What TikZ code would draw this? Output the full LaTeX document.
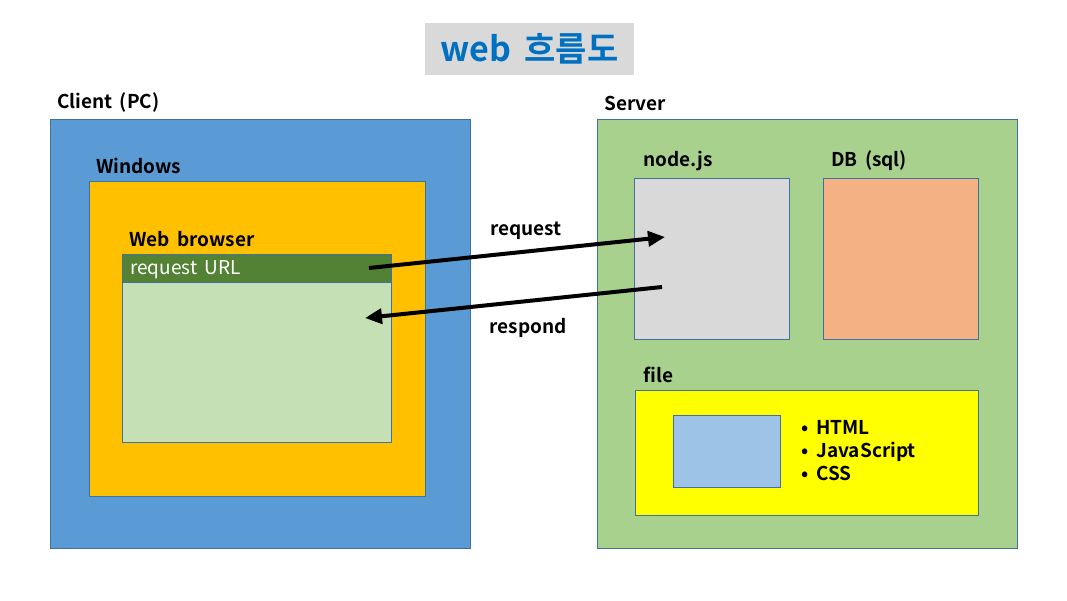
\documentclass[tikz,border=0pt]{standalone}
\usepackage{fontspec}
\setmainfont{Noto Sans CJK KR}[BoldFont={Noto Sans CJK KR Bold}, WordSpace=1.7]
\usetikzlibrary{arrows.meta}

\definecolor{clientblue}{HTML}{5B9BD5}
\definecolor{winorange}{HTML}{FFC000}
\definecolor{bargreen}{HTML}{548235}
\definecolor{pagegreen}{HTML}{C5E0B4}
\definecolor{servergreen}{HTML}{A9D18E}
\definecolor{nodegray}{HTML}{D9D9D9}
\definecolor{dbsalmon}{HTML}{F4B183}
\definecolor{fileyellow}{HTML}{FFFF00}
\definecolor{iconblue}{HTML}{9DC3E6}
\definecolor{titleblue}{HTML}{0070C0}
\definecolor{edgeblue}{HTML}{41719C}

\tikzset{
  box/.style={draw=edgeblue, line width=0.8pt, anchor=north west, inner sep=0pt},
  lbl/.style={anchor=west, inner sep=0pt, font=\fontsize{19}{21}\selectfont\bfseries},
  flow/.style={line width=4pt, -{Triangle[length=17pt,width=15pt]}},
}

\begin{document}
\begin{tikzpicture}[x=1pt, y=-1pt]
    \useasboundingbox (0,0) rectangle (1067,600);

    % Título
    \node[fill=nodegray, minimum width=209, minimum height=52, anchor=north west,
          font=\fontsize{34}{38}\selectfont\bfseries, text=titleblue] (title) at (425,23) {web 흐름도};

    % Cliente
    \node[lbl] (clientlbl) at (57,103) {Client (PC)};
    \node[box, fill=clientblue, minimum width=420, minimum height=429] (client) at (50,119) {};
    \node[lbl] (winlbl) at (96,166) {Windows};
    \node[box, fill=winorange, minimum width=336, minimum height=315] (windows) at (89,181) {};
    \node[lbl] (browserlbl) at (129,239) {Web browser};
    \node[box, fill=bargreen, minimum width=269, minimum height=28] (urlbar) at (122,254) {};
    \node[anchor=west, inner sep=0pt, text=white, font=\fontsize{19}{21}\selectfont] (urltext) at (130,270) {request URL};
    \node[box, fill=pagegreen, minimum width=269, minimum height=160] (page) at (122,282) {};

    % Servidor
    \node[lbl] (serverlbl) at (604,103) {Server};
    \node[box, fill=servergreen, minimum width=420, minimum height=429] (server) at (597,119) {};
    \node[lbl] (nodelbl) at (643,161) {node.js};
    \node[box, fill=nodegray, minimum width=155, minimum height=161] (nodejs) at (634,178) {};
    \node[lbl] (dblbl) at (831,161) {DB (sql)};
    \node[box, fill=dbsalmon, minimum width=155, minimum height=161] (db) at (823,178) {};
    \node[lbl] (filelbl) at (643,375) {file};
    \node[box, fill=fileyellow, minimum width=343, minimum height=125] (file) at (635,390) {};
    \node[box, fill=iconblue, minimum width=107, minimum height=72] (icon) at (673,415) {};
    \node[anchor=north west, inner sep=0pt, align=left, font=\fontsize{19}{23}\selectfont\bfseries] (filelist) at (801,420)
        {\textbullet\hspace{8pt}HTML\\ \textbullet\hspace{8pt}JavaScript\\ \textbullet\hspace{8pt}CSS};

    % Pedido e resposta
    \coordinate (reqstart) at (369,268);
    \coordinate (reqend) at (665,237);
    \coordinate (resstart) at (662,287);
    \coordinate (resend) at (365,318);
    \draw[flow] (reqstart) -- (reqend);
    \draw[flow] (resstart) -- (resend);
    \node[lbl, anchor=center] (reqlbl) at (526,231) {request};
    \node[lbl, anchor=center] (reslbl) at (528,328) {respond};
\end{tikzpicture}
\end{document}
